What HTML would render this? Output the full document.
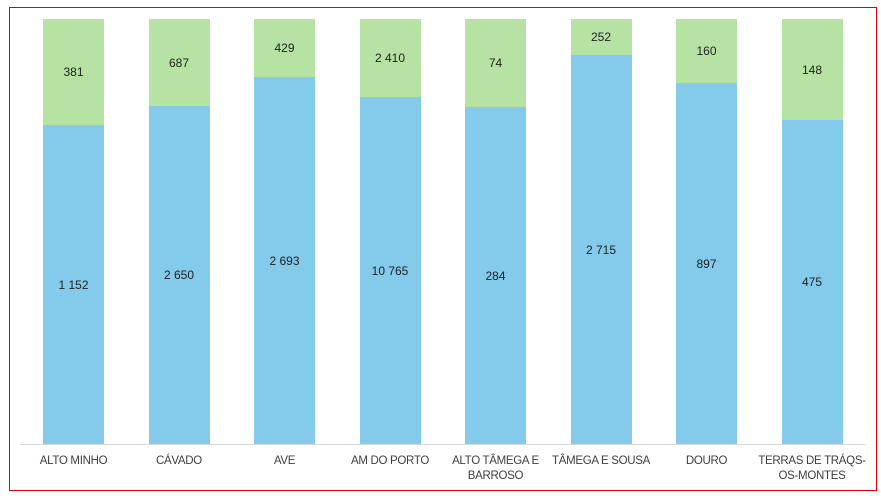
<!DOCTYPE html>
<html><head><style>
body{margin:0;width:881px;height:496px;background:#fff;font-family:"Liberation Sans",sans-serif;position:relative;overflow:hidden}
.frame{position:absolute;left:9px;top:7px;width:866px;height:482px;border:1px solid #e00000;box-sizing:content-box}
.g,.b{position:absolute;width:61px}
.g{background:#b6e3a4}.b{background:#83caeb}
.t{position:absolute;width:61px;text-align:center;font-size:12px;color:#222;line-height:14px}
.x{position:absolute;width:120px;text-align:center;font-size:11.5px;letter-spacing:-0.3px;color:#404040;line-height:15px;top:454px;white-space:nowrap}
.ax{position:absolute;left:20px;top:444px;width:846px;height:1px;background:#d9d9d9}
</style></head><body>
<div class="frame"></div>
<div id="c"></div>
<div class="ax"></div>
<script>
var d=[["ALTO MINHO",125,"381","1 152"],["CÁVADO",106,"687","2 650"],["AVE",77,"429","2 693"],["AM DO PORTO",97,"2 410","10 765"],["ALTO TÂMEGA E<br>BARROSO",107,"74","284"],["TÂMEGA E SOUSA",55,"252","2 715"],["DOURO",83,"160","897"],["TERRAS DE TRÁQS-<br>OS-MONTES",120,"148","475"]];
var h="";
d.forEach(function(r,i){var x=43+i*105.5;var top=19,bot=444,m=r[1];
h+='<div class="g" style="left:'+x+'px;top:'+top+'px;height:'+(m-top)+'px"></div>';
h+='<div class="b" style="left:'+x+'px;top:'+m+'px;height:'+(bot-m)+'px"></div>';
h+='<div class="t" style="left:'+x+'px;top:'+((top+m)/2-7)+'px">'+r[2]+'</div>';
h+='<div class="t" style="left:'+x+'px;top:'+((m+bot)/2-7)+'px">'+r[3]+'</div>';
h+='<div class="x" style="left:'+(x-29.5)+'px">'+r[0]+'</div>';});
document.getElementById("c").innerHTML=h;
</script>
</body></html>
